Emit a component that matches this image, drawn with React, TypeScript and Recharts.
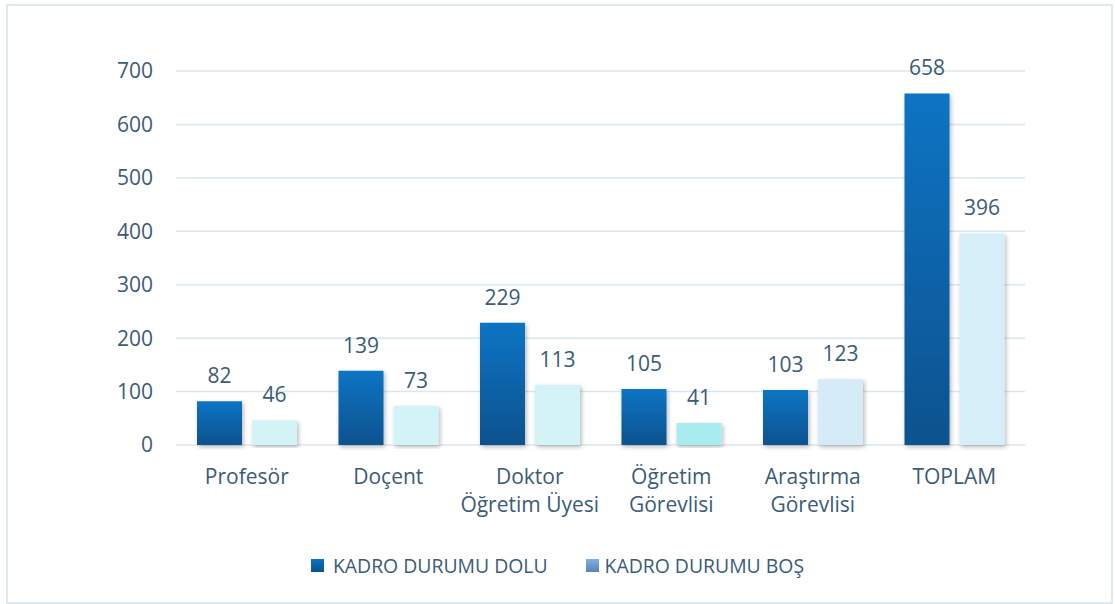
import React from 'react';
import { BarChart, Bar, XAxis, YAxis, CartesianGrid, LabelList, Legend, Cell } from 'recharts';

const categories = ['Profesör', 'Doçent', 'Doktor\nÖğretim Üyesi', 'Öğretim\nGörevlisi', 'Araştırma\nGörevlisi', 'TOPLAM'];
const doluValues = [82, 139, 229, 105, 103, 658];
const bosValues = [46, 73, 113, 41, 123, 396];
const yTicks = [0, 100, 200, 300, 400, 500, 600, 700];
const seriesNames = ['KADRO DURUMU DOLU', 'KADRO DURUMU BOŞ'];

const bosColors = ['#d3f4f7', '#d3f4f7', '#d3f3f6', '#a9ecef', '#d5ecf8', '#d5eef8'];

const data = categories.map((name, i) => ({ name, dolu: doluValues[i], bos: bosValues[i] }));

const textColor = '#3b5b78';
const font = '"Open Sans", sans-serif';

const CategoryTick = (props: any) => {
  const { x, y, payload } = props;
  const lines = String(payload.value).split('\n');
  return (
    <g>
      {lines.map((line: string, i: number) => (
        <text key={i} x={x} y={y + 31 + i * 28} textAnchor="middle" fill={textColor} fontSize={21} fontFamily={font}>
          {line}
        </text>
      ))}
    </g>
  );
};

const LegendContent = () => (
  <div style={{ display: 'flex', justifyContent: 'center', fontFamily: font, fontSize: 19.4, color: textColor }}>
    <div style={{ display: 'flex', alignItems: 'center', marginRight: 38 }}>
      <span style={{ width: 13, height: 13, background: 'linear-gradient(#0a74c4, #08528e)', marginRight: 9, display: 'inline-block' }} />
      {seriesNames[0]}
    </div>
    <div style={{ display: 'flex', alignItems: 'center' }}>
      <span style={{ width: 13, height: 13, background: 'linear-gradient(#82b0e2, #5b82b5)', marginRight: 6, display: 'inline-block' }} />
      {seriesNames[1]}
    </div>
  </div>
);

export default function App() {
  return (
    <div style={{ position: 'absolute', left: 0, top: 0, width: 1115, height: 604, background: '#fff' }}>
      <div style={{ position: 'absolute', left: 6, top: 4, width: 1103, height: 596, border: '2px solid #dde8f1' }} />
      <div style={{ position: 'absolute', left: 0, top: 0 }}>
        <BarChart
          width={1115}
          height={604}
          data={data}
          margin={{ top: 71, right: 90, left: 116, bottom: 99 }}
          barCategoryGap={21}
          barGap={10}
        >
          <defs>
            <linearGradient id="doluGrad" x1="0" y1="0" x2="0" y2="1">
              <stop offset="0%" stopColor="#0a74c4" />
              <stop offset="100%" stopColor="#07528e" />
            </linearGradient>
            <filter id="barShadow" x="-20%" y="-5%" width="140%" height="115%">
              <feDropShadow dx="1.5" dy="2" stdDeviation="2" floodColor="#000" floodOpacity="0.28" />
            </filter>
          </defs>
          <CartesianGrid vertical={false} stroke="#dbe6ef" strokeWidth={1.5} />
          <XAxis
            dataKey="name"
            axisLine={false}
            tickLine={false}
            height={60}
            interval={0}
            tick={<CategoryTick />}
          />
          <YAxis
            domain={[0, 700]}
            ticks={yTicks}
            axisLine={false}
            tickLine={false}
            tickSize={0}
            tickMargin={23}
            width={60}
            tick={{ fill: textColor, fontSize: 21, fontFamily: font }}
          />
          <Legend verticalAlign="middle" wrapperStyle={{ top: 552, left: 0, width: 1115 }} content={<LegendContent />} />
          <Bar dataKey="dolu" name={seriesNames[0]} fill="url(#doluGrad)" filter="url(#barShadow)" isAnimationActive={false}>
            <LabelList dataKey="dolu" position="top" offset={18} fill={textColor} fontSize={21} fontFamily={font} />
          </Bar>
          <Bar dataKey="bos" name={seriesNames[1]} fill="#d3f4f7" filter="url(#barShadow)" isAnimationActive={false}>
            {data.map((_, i) => (
              <Cell key={i} fill={bosColors[i]} />
            ))}
            <LabelList dataKey="bos" position="top" offset={18} fill={textColor} fontSize={21} fontFamily={font} />
          </Bar>
        </BarChart>
      </div>
    </div>
  );
}
